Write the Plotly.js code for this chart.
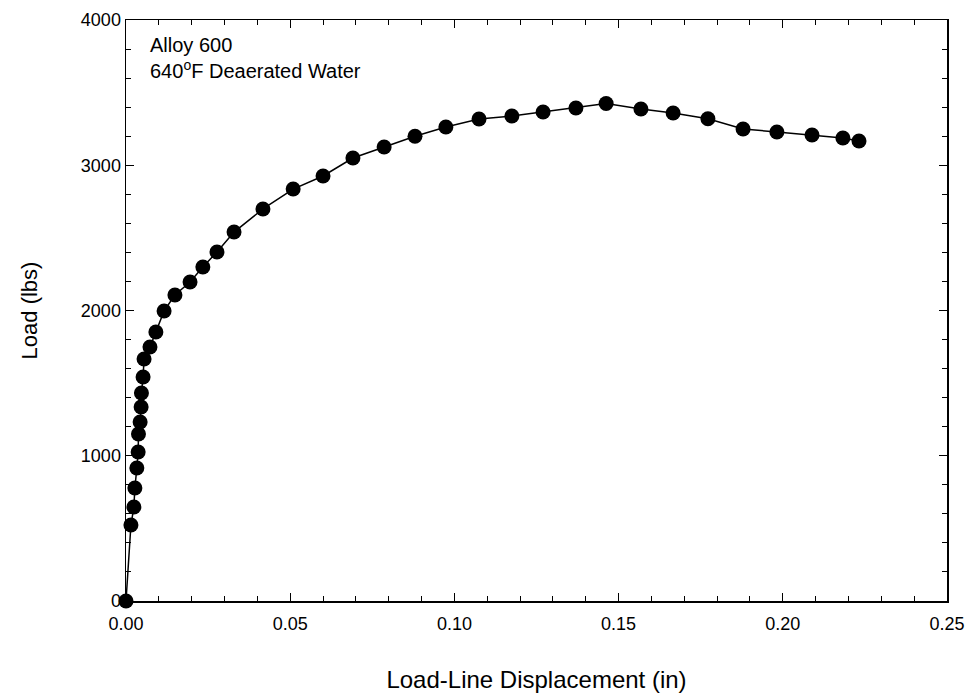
<!DOCTYPE html>
<html>
<head>
<meta charset="utf-8">
<script src="https://cdn.plot.ly/plotly-3.0.1.min.js"></script>
<style>html,body{margin:0;padding:0;background:#fff;}#chart{width:972px;height:695px;}</style>
</head>
<body>
<div id="chart"></div>
<script>
const displacement = [0, 0.0015, 0.0024, 0.0027, 0.0033, 0.0037, 0.0038, 0.0043, 0.0046, 0.0047, 0.0052, 0.0055, 0.0073, 0.0091, 0.0116, 0.0149, 0.0195, 0.0234, 0.0277, 0.0329, 0.0417, 0.0509, 0.0600, 0.0691, 0.0786, 0.0880, 0.0974, 0.1075, 0.1175, 0.1270, 0.1370, 0.1462, 0.1568, 0.1666, 0.1772, 0.1879, 0.1982, 0.2089, 0.2183, 0.2232];
const load = [0, 523, 647, 778, 916, 1026, 1150, 1232, 1336, 1432, 1542, 1666, 1749, 1852, 1997, 2107, 2196, 2299, 2403, 2540, 2699, 2836, 2926, 3050, 3126, 3200, 3263, 3318, 3339, 3367, 3394, 3425, 3387, 3360, 3320, 3250, 3229, 3208, 3188, 3167];
const xTickVals = [0, 0.05, 0.10, 0.15, 0.20, 0.25];
const xTickText = ["0.00", "0.05", "0.10", "0.15", "0.20", "0.25"];
const yTickVals = [0, 1000, 2000, 3000, 4000];
const yTickText = ["0", "1000", "2000", "3000", "4000"];

const font = "Liberation Sans, Arial, sans-serif";

Plotly.newPlot('chart', [{
  x: displacement, y: load, type: 'scatter', mode: 'lines+markers',
  line: {color: '#000', width: 1.5},
  marker: {color: '#000', size: 15, symbol: 'circle'},
  cliponaxis: false
}], {
  width: 972, height: 695,
  margin: {l: 126, r: 25, t: 20, b: 94},
  paper_bgcolor: '#fff', plot_bgcolor: '#fff',
  showlegend: false,
  font: {family: font, color: '#000', size: 18},
  xaxis: {
    range: [0, 0.25], tickvals: xTickVals, ticktext: xTickText,
    showline: true, linecolor: '#000', linewidth: 1.5, mirror: 'allticks',
    ticks: 'inside', ticklen: 8, tickwidth: 1, tickcolor: '#000',
    minor: {dtick: 0.01, ticks: 'inside', ticklen: 5, tickwidth: 1, tickcolor: '#000', showgrid: false},
    showgrid: false, zeroline: false,
    tickfont: {size: 18, family: font}, ticklabelstandoff: 6,
    title: {text: 'Load-Line Displacement (in)', font: {size: 24, family: font}, standoff: 38}
  },
  yaxis: {
    range: [0, 4000], tickvals: yTickVals, ticktext: yTickText,
    showline: true, linecolor: '#000', linewidth: 1.5, mirror: 'allticks',
    ticks: 'inside', ticklen: 8, tickwidth: 1, tickcolor: '#000',
    minor: {dtick: 200, ticks: 'inside', ticklen: 5, tickwidth: 1, tickcolor: '#000', showgrid: false},
    showgrid: false, zeroline: false,
    tickfont: {size: 18, family: font},
    title: {text: 'Load (lbs)', font: {size: 22, family: font}, standoff: 37}
  },
  annotations: [
    {xref: 'paper', yref: 'paper', x: 0.027, y: 0.98, xanchor: 'left', yanchor: 'top', align: 'left',
     showarrow: false, font: {size: 20, family: font, color: '#000'},
     text: 'Alloy 600<br>640<sup>o</sup>F Deaerated Water'}
  ]
}, {displayModeBar: false, staticPlot: true});
</script>
</body>
</html>
